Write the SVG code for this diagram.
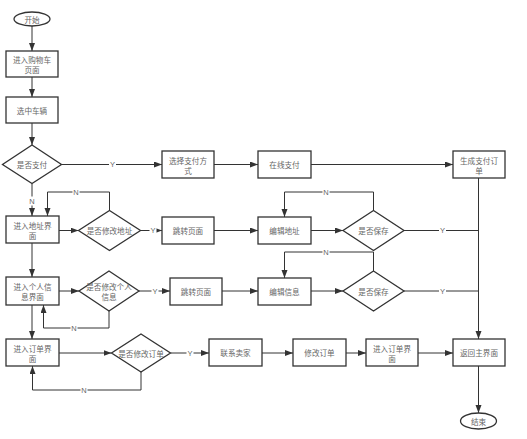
<svg xmlns="http://www.w3.org/2000/svg" width="527" height="439" viewBox="0 0 527 439">
<style>
.n{fill:#fff;stroke:#333;stroke-width:1.3}
.t{font-family:"Noto Sans CJK SC","Liberation Sans",sans-serif;font-size:7.6px;fill:#666;text-anchor:middle;dominant-baseline:central}
.c{fill:none;stroke:#333;stroke-width:1}
.l{font-family:"Liberation Sans","Noto Sans CJK SC",sans-serif;font-size:7.5px;fill:#666;text-anchor:middle;dominant-baseline:central}
.lb{fill:#fff}
</style>
<defs>
<marker id="a" markerUnits="userSpaceOnUse" markerWidth="9" markerHeight="7" refX="8" refY="3" orient="auto">
<path d="M0,0 L8,3 L0,6 z" fill="#333"/>
</marker>
</defs>
<rect width="527" height="439" fill="#fff"/>
<g id="connectors">
<path class="c" marker-end="url(#a)" d="M32,26 V51"/>
<path class="c" marker-end="url(#a)" d="M32,77 V97"/>
<path class="c" marker-end="url(#a)" d="M32,123 V145"/>
<path class="c" marker-end="url(#a)" d="M61.5,164.5 H162"/>
<path class="c" marker-end="url(#a)" d="M214,164.5 H258"/>
<path class="c" marker-end="url(#a)" d="M311,164.5 H453"/>
<path class="c" marker-end="url(#a)" d="M32,183.5 V216"/>
<path class="c" marker-end="url(#a)" d="M59,230.5 H78.5"/>
<path class="c" marker-end="url(#a)" d="M109.5,210.5 V192 H47.5 V216"/>
<path class="c" marker-end="url(#a)" d="M140.5,230.5 H162"/>
<path class="c" marker-end="url(#a)" d="M214,230.5 H258"/>
<path class="c" marker-end="url(#a)" d="M311,230.5 H343"/>
<path class="c" marker-end="url(#a)" d="M373.5,210.5 V192 H284.5 V217"/>
<path class="c" d="M404,230.5 H478.5"/>
<path class="c" marker-end="url(#a)" d="M478.5,178 V339"/>
<path class="c" marker-end="url(#a)" d="M32,243 V277"/>
<path class="c" marker-end="url(#a)" d="M59,291 H79"/>
<path class="c" marker-end="url(#a)" d="M109,311 V328 H43.5 V305"/>
<path class="c" marker-end="url(#a)" d="M139,291 H170"/>
<path class="c" marker-end="url(#a)" d="M222,291 H258"/>
<path class="c" marker-end="url(#a)" d="M311,291 H343"/>
<path class="c" marker-end="url(#a)" d="M373.5,271 V252 H284.5 V278"/>
<path class="c" d="M404,291 H478.5"/>
<path class="c" marker-end="url(#a)" d="M32,305 V339"/>
<path class="c" marker-end="url(#a)" d="M59,353 H111.5"/>
<path class="c" marker-end="url(#a)" d="M141,372 V390 H32.5 V366"/>
<path class="c" marker-end="url(#a)" d="M170.5,353 H209"/>
<path class="c" marker-end="url(#a)" d="M262,353 H293"/>
<path class="c" marker-end="url(#a)" d="M346,353 H366"/>
<path class="c" marker-end="url(#a)" d="M418,353 H453"/>
<path class="c" marker-end="url(#a)" d="M478.5,366 V413"/>
<g id="labels">
<rect class="lb" x="109" y="160" width="7" height="9"/><text class="l" x="112.5" y="164.5">Y</text>
<rect class="lb" x="28.5" y="196.5" width="7" height="9"/><text class="l" x="32" y="201">N</text>
<rect class="lb" x="72.5" y="187.5" width="7" height="9"/><text class="l" x="76" y="192">N</text>
<rect class="lb" x="149.5" y="226" width="7" height="9"/><text class="l" x="153" y="230.5">Y</text>
<rect class="lb" x="322.5" y="187.5" width="7" height="9"/><text class="l" x="326" y="192">N</text>
<rect class="lb" x="439" y="226" width="7" height="9"/><text class="l" x="442.5" y="230.5">Y</text>
<rect class="lb" x="70.5" y="323.5" width="7" height="9"/><text class="l" x="74" y="328">N</text>
<rect class="lb" x="151.5" y="286.5" width="7" height="9"/><text class="l" x="155" y="291">Y</text>
<rect class="lb" x="322.5" y="247.5" width="7" height="9"/><text class="l" x="326" y="252">N</text>
<rect class="lb" x="439" y="286.5" width="7" height="9"/><text class="l" x="442.5" y="291">Y</text>
<rect class="lb" x="80.5" y="385.5" width="7" height="9"/><text class="l" x="84" y="390">N</text>
<rect class="lb" x="186.5" y="348.5" width="7" height="9"/><text class="l" x="190" y="353">Y</text>
</g>
</g>
<g id="start"><ellipse class="n" cx="32" cy="19" rx="18" ry="7"/><text class="t" x="32" y="19">开始</text></g>
<g id="cart"><rect class="n" x="6" y="51" width="52" height="26"/><text class="t" x="32" y="59.5">进入购物车</text><text class="t" x="32" y="69.5">页面</text></g>
<g id="select"><rect class="n" x="6" y="97" width="52" height="26"/><text class="t" x="32" y="110">选中车辆</text></g>
<g id="pay"><polygon class="n" points="32,145 61.5,164.5 32,183.5 2.5,164.5"/><text class="t" x="32" y="164.5">是否支付</text></g>
<g id="method"><rect class="n" x="162" y="151" width="52" height="27"/><text class="t" x="188" y="160">选择支付方</text><text class="t" x="188" y="170">式</text></g>
<g id="online"><rect class="n" x="258" y="151" width="53" height="27"/><text class="t" x="284.5" y="164.5">在线支付</text></g>
<g id="genorder"><rect class="n" x="453" y="151" width="52" height="27"/><text class="t" x="479" y="160">生成支付订</text><text class="t" x="479" y="170">单</text></g>
<g id="addr"><rect class="n" x="6" y="216" width="53" height="27"/><text class="t" x="32.5" y="225">进入地址界</text><text class="t" x="32.5" y="235">面</text></g>
<g id="modaddr"><polygon class="n" points="109.5,210.5 140.5,230.5 109.5,250.5 78.5,230.5"/><text class="t" x="109.5" y="230.5">是否修改地址</text></g>
<g id="jump1"><rect class="n" x="162" y="217" width="52" height="27"/><text class="t" x="188" y="230.5">跳转页面</text></g>
<g id="editaddr"><rect class="n" x="258" y="217" width="53" height="27"/><text class="t" x="284.5" y="230.5">编辑地址</text></g>
<g id="save1"><polygon class="n" points="373.5,210.5 404,230.5 373.5,250.5 343,230.5"/><text class="t" x="373.5" y="230.5">是否保存</text></g>
<g id="info"><rect class="n" x="6" y="277" width="53" height="28"/><text class="t" x="32.5" y="286">进入个人信</text><text class="t" x="32.5" y="296">息界面</text></g>
<g id="modinfo"><polygon class="n" points="109,271 139,291 109,311 79,291"/><text class="t" x="109" y="286">是否修改个人</text><text class="t" x="109" y="296">信息</text></g>
<g id="jump2"><rect class="n" x="170" y="278" width="52" height="27"/><text class="t" x="196" y="291.5">跳转页面</text></g>
<g id="editinfo"><rect class="n" x="258" y="278" width="53" height="27"/><text class="t" x="284.5" y="291.5">编辑信息</text></g>
<g id="save2"><polygon class="n" points="373.5,271 404,291 373.5,311 343,291"/><text class="t" x="373.5" y="291">是否保存</text></g>
<g id="order"><rect class="n" x="6" y="339" width="53" height="27"/><text class="t" x="32.5" y="348">进入订单界</text><text class="t" x="32.5" y="358">面</text></g>
<g id="modorder"><polygon class="n" points="141,334 170.5,353 141,372 111.5,353"/><text class="t" x="141" y="353">是否修改订单</text></g>
<g id="contact"><rect class="n" x="209" y="339" width="53" height="27"/><text class="t" x="235.5" y="352.5">联系卖家</text></g>
<g id="editorder"><rect class="n" x="293" y="339" width="53" height="27"/><text class="t" x="319.5" y="352.5">修改订单</text></g>
<g id="order2"><rect class="n" x="366" y="339" width="52" height="27"/><text class="t" x="392" y="348">进入订单界</text><text class="t" x="392" y="358">面</text></g>
<g id="home"><rect class="n" x="453" y="339" width="52" height="27"/><text class="t" x="479" y="352.5">返回主界面</text></g>
<g id="end"><ellipse class="n" cx="478.5" cy="421" rx="18" ry="8"/><text class="t" x="478.5" y="421">结束</text></g>
</svg>
